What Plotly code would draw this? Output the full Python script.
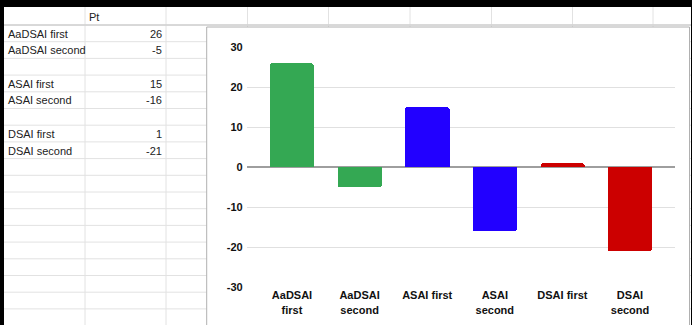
import plotly.graph_objects as go

# ---- data ----
categories = ["AaDSAI first", "AaDSAI second", "ASAI first", "ASAI second", "DSAI first", "DSAI second"]
values = [26, -5, 15, -16, 1, -21]
tick_labels = ["AaDSAI<br>first", "AaDSAI<br>second", "ASAI first", "ASAI<br>second", "DSAI first", "DSAI<br>second"]
bar_colors = ["#34a853", "#34a853", "#2200ff", "#2200ff", "#cc0000", "#cc0000"]
y_ticks = [-30, -20, -10, 0, 10, 20, 30]
y_tick_text = ["-30", "-20", "-10", "0", "10", "20", "30"]
header_label = "Pt"

W, H = 692, 325


def px(x):
    return x / W


def py(y):
    return 1 - y / H


x_idx = list(range(len(categories)))

fig = go.Figure()
fig.add_trace(go.Bar(
    x=x_idx, y=values, marker=dict(color=bar_colors, line=dict(width=0), cornerradius=2),
    width=0.655, hoverinfo="skip", showlegend=False,
))

shapes = []
# spreadsheet grid: column lines
col_lines = [85, 166, 247.5, 328.5, 410, 491.5, 572.5, 653]
for cx in col_lines:
    shapes.append(dict(type="line", xref="paper", yref="paper", x0=px(cx), x1=px(cx), y0=py(7), y1=py(325),
                       line=dict(color="#e2e2e2", width=1), layer="below"))
# row lines
row_h = 16.7
ry = 25.0
while ry < 325:
    shapes.append(dict(type="line", xref="paper", yref="paper", x0=px(4), x1=px(692), y0=py(ry), y1=py(ry),
                       line=dict(color="#e2e2e2", width=1), layer="below"))
    ry += row_h
# header bottom slightly stronger
shapes.append(dict(type="line", xref="paper", yref="paper", x0=px(4), x1=px(692), y0=py(25), y1=py(25),
                   line=dict(color="#d0d0d0", width=1.5), layer="below"))
# chart panel
shapes.append(dict(type="rect", xref="paper", yref="paper", x0=px(206.7), x1=px(689.5), y0=py(330), y1=py(27),
                   fillcolor="white", line=dict(color="#b0b0b0", width=1), layer="below"))
# black frame parts
shapes.append(dict(type="rect", xref="paper", yref="paper", x0=0, x1=1, y0=py(7), y1=1,
                   fillcolor="black", line=dict(width=0), layer="above"))
shapes.append(dict(type="rect", xref="paper", yref="paper", x0=0, x1=px(4), y0=0, y1=1,
                   fillcolor="black", line=dict(width=0), layer="above"))
shapes.append(dict(type="rect", xref="paper", yref="paper", x0=px(691), x1=1, y0=0, y1=1,
                   fillcolor="black", line=dict(width=0), layer="above"))

# spreadsheet text
annotations = []
sheet_font = dict(family="Liberation Sans, Arial", size=11, color="#222222")
annotations.append(dict(text=header_label, xref="paper", yref="paper", x=px(87), y=py(16.5),
                        xanchor="left", yanchor="middle", showarrow=False, font=sheet_font))
row = 0
for i, (c, v) in enumerate(zip(categories, values)):
    if i > 0 and i % 2 == 0:
        row += 1  # blank row between groups
    cy = 25 + row_h * row + row_h / 2 + 0.3
    annotations.append(dict(text=c, xref="paper", yref="paper", x=px(6), y=py(cy),
                            xanchor="left", yanchor="middle", showarrow=False, font=sheet_font))
    annotations.append(dict(text=str(v), xref="paper", yref="paper", x=px(164), y=py(cy),
                            xanchor="right", yanchor="middle", showarrow=False, font=sheet_font))
    row += 1

bold_font = dict(family="Liberation Sans, Arial", size=11, color="#111111", weight="bold")

fig.update_layout(
    template="none",
    width=W, height=H, autosize=False,
    margin=dict(l=0, r=0, t=0, b=0, pad=0),
    paper_bgcolor="white", plot_bgcolor="rgba(0,0,0,0)",
    shapes=shapes, annotations=annotations,
    bargap=0,
    xaxis=dict(
        domain=[px(246.7), px(675.3)], range=[-0.67, 5.67], automargin=False,
        tickmode="array", tickvals=x_idx, ticktext=tick_labels,
        showgrid=False, zeroline=False, showline=False, ticks="",
        tickfont=bold_font, fixedrange=True,
    ),
    yaxis=dict(
        domain=[py(287.3), py(47.3)], range=[-30, 30], automargin=False,
        tickmode="array", tickvals=y_ticks, ticktext=y_tick_text,
        showgrid=True, gridcolor="#e0e0e0", gridwidth=1,
        zeroline=True, zerolinecolor="#9e9e9e", zerolinewidth=2,
        showline=False, ticks="", tickfont=bold_font, ticklabelstandoff=3,
        fixedrange=True,
    ),
)

fig.write_html("out.html")
